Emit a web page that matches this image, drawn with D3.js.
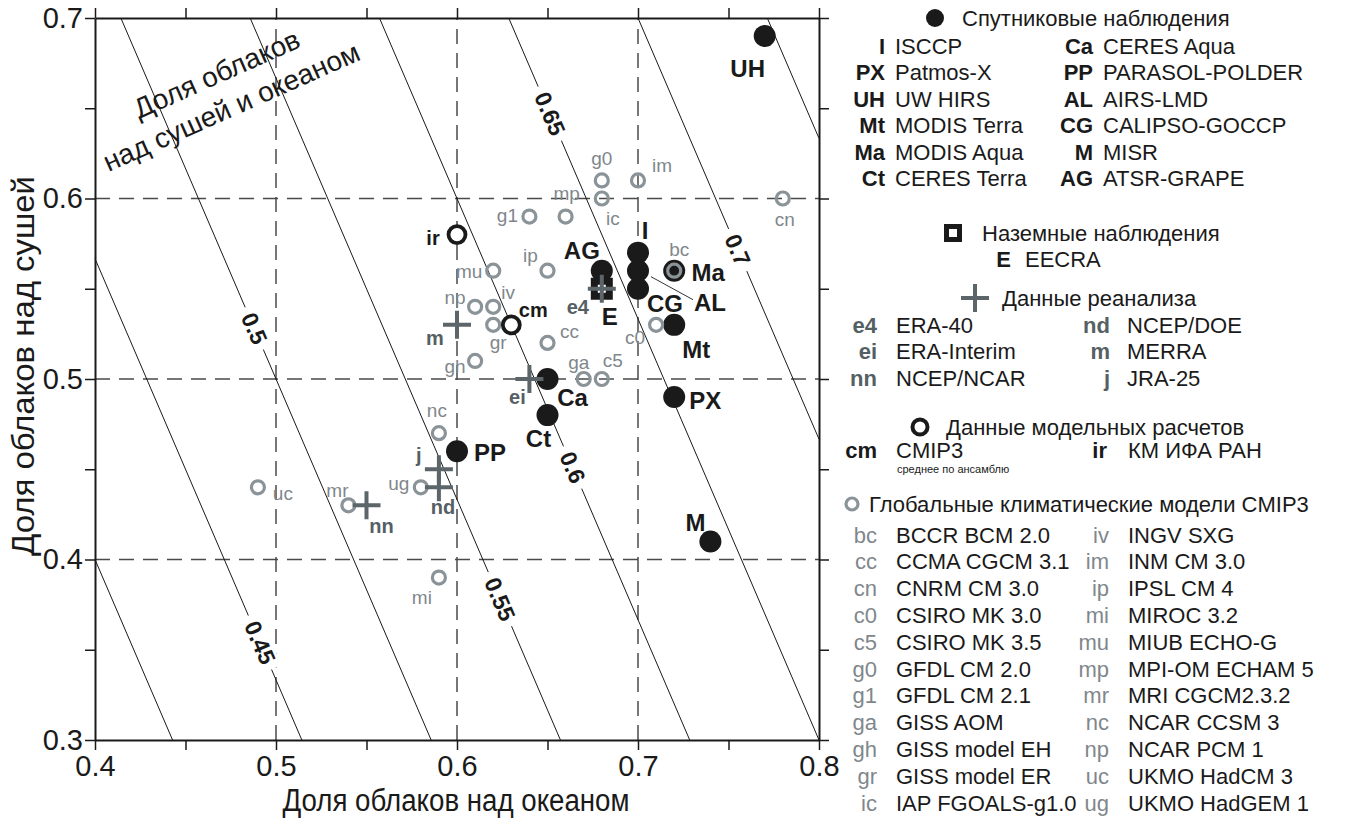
<!DOCTYPE html>
<html>
<head>
<meta charset="utf-8">
<script src="https://cdn.jsdelivr.net/npm/d3@7"></script>
<style>
  body { margin: 0; background: #fff; }
  svg { display: block; font-family: "Liberation Sans", Arial, sans-serif; }
</style>
</head>
<body>
<svg id="chart" width="1364" height="822"></svg>
<script>
/* DATA: [code, ocean cloud fraction, land cloud fraction] */
const satellite = [
  ["UH", 0.77, 0.69], ["I", 0.70, 0.57], ["AL", 0.70, 0.56], ["CG", 0.70, 0.55],
  ["AG", 0.68, 0.56], ["Ma", 0.72, 0.56], ["Mt", 0.72, 0.53], ["PX", 0.72, 0.49],
  ["Ca", 0.65, 0.50], ["Ct", 0.65, 0.48], ["PP", 0.60, 0.46], ["M", 0.74, 0.41]
];
const ground = [["E", 0.68, 0.55]];
const reanalysis = [
  ["e4", 0.68, 0.55], ["ei", 0.64, 0.50], ["m", 0.60, 0.53],
  ["nn", 0.55, 0.43], ["nd", 0.59, 0.44], ["j", 0.59, 0.45]
];
const models = [["ir", 0.60, 0.58], ["cm", 0.63, 0.53]];
const cmip3 = [
  ["g0", 0.68, 0.61], ["im", 0.70, 0.61], ["ic", 0.68, 0.60], ["mp", 0.66, 0.59],
  ["g1", 0.64, 0.59], ["cn", 0.78, 0.60], ["ip", 0.65, 0.56], ["mu", 0.62, 0.56],
  ["np", 0.61, 0.54], ["iv", 0.62, 0.54], ["gr", 0.62, 0.53], ["cc", 0.65, 0.52],
  ["gh", 0.61, 0.51], ["ga", 0.67, 0.50], ["c5", 0.68, 0.50], ["bc", 0.72, 0.56],
  ["c0", 0.71, 0.53], ["nc", 0.59, 0.47], ["uc", 0.49, 0.44], ["mr", 0.54, 0.43],
  ["ug", 0.58, 0.44], ["mi", 0.59, 0.39]
];

/* total = landShare*land + (1-landShare)*ocean */
const landShare = 0.3;
const contourLevels = [0.4, 0.45, 0.5, 0.55, 0.6, 0.65, 0.7, 0.75];
/* [level, land value where the label sits] */
const contourLabels = [[0.45, 0.354], [0.5, 0.528], [0.55, 0.378], [0.6, 0.451], [0.65, 0.647], [0.7, 0.5715]];

const xTicks = [0.4, 0.45, 0.5, 0.55, 0.6, 0.65, 0.7, 0.75, 0.8];
const yTicks = [0.3, 0.35, 0.4, 0.45, 0.5, 0.55, 0.6, 0.65, 0.7];
const gridX = [0.5, 0.6, 0.7];
const gridY = [0.4, 0.5, 0.6];

/* legend texts */
const satNames = [
  ["I", "ISCCP"], ["PX", "Patmos-X"], ["UH", "UW HIRS"], ["Mt", "MODIS Terra"], ["Ma", "MODIS Aqua"], ["Ct", "CERES Terra"],
  ["Ca", "CERES Aqua"], ["PP", "PARASOL-POLDER"], ["AL", "AIRS-LMD"], ["CG", "CALIPSO-GOCCP"], ["M", "MISR"], ["AG", "ATSR-GRAPE"]
];
const groundNames = [["E", "EECRA"]];
const reanNames = [["e4", "ERA-40"], ["ei", "ERA-Interim"], ["nn", "NCEP/NCAR"], ["nd", "NCEP/DOE"], ["m", "MERRA"], ["j", "JRA-25"]];
const modelNames = [["cm", "CMIP3"], ["ir", "КМ ИФА РАН"]];
const cmipNames = [
  ["bc", "BCCR BCM 2.0"], ["cc", "CCMA CGCM 3.1"], ["cn", "CNRM CM 3.0"], ["c0", "CSIRO MK 3.0"], ["c5", "CSIRO MK 3.5"],
  ["g0", "GFDL CM 2.0"], ["g1", "GFDL CM 2.1"], ["ga", "GISS AOM"], ["gh", "GISS model EH"], ["gr", "GISS model ER"],
  ["ic", "IAP FGOALS-g1.0"],
  ["iv", "INGV SXG"], ["im", "INM CM 3.0"], ["ip", "IPSL CM 4"], ["mi", "MIROC 3.2"], ["mu", "MIUB ECHO-G"],
  ["mp", "MPI-OM ECHAM 5"], ["mr", "MRI CGCM2.3.2"], ["nc", "NCAR CCSM 3"], ["np", "NCAR PCM 1"], ["uc", "UKMO HadCM 3"],
  ["ug", "UKMO HadGEM 1"]
];

/* label offsets (px) from marker centre */
const labelPos = {
  UH: [-17, 32], I: [7, -22], AL: [72, 32], CG: [27, 15], AG: [-20, -20], Ma: [34, 2], Mt: [22, 25],
  PX: [31, 3], Ca: [25, 18], Ct: [-9, 23], PP: [33, 1], M: [-15, -19], E: [8, 28],
  e4: [-24, 18], ei: [-12, 18], m: [-22, 13], nn: [15, 21], nd: [4, 20], j: [-20, -14],
  ir: [-24, 3], cm: [22, -15],
  g0: [0, -22], im: [24, -15], ic: [11, 20], mp: [1, -23], g1: [-22, -1], cn: [2, 21], ip: [-17, -15],
  mu: [-24, 1], np: [-20, -9], iv: [15, -14], gr: [5, 18], cc: [22, -11], gh: [-20, 6], ga: [-5, -17],
  c5: [11, -19], bc: [5, -21], c0: [-21, 13], nc: [-2, -23], uc: [25, 6], mr: [-11, -15], ug: [-22, -4], mi: [-17, 20]
};

const black = "#1a1a1a", ringGray = "#8a9398", crossGray = "#5c6569", labGray = "#7f878c";
const legendSize = 22;

const svg = d3.select("#chart");
const x = d3.scaleLinear([0.4, 0.8], [95, 819]);
const y = d3.scaleLinear([0.3, 0.7], [740, 18]);
const isMajor = d => Math.abs(d * 10 - Math.round(d * 10)) < 1e-6;

/* GRID */
svg.append("g").selectAll("line").data(gridX).join("line")
  .attr("x1", d => x(d)).attr("x2", d => x(d)).attr("y1", y(0.3)).attr("y2", y(0.7))
  .attr("stroke", "#4a4a4a").attr("stroke-width", 1.5).attr("stroke-dasharray", "15 9");
svg.append("g").selectAll("line").data(gridY).join("line")
  .attr("y1", d => y(d)).attr("y2", d => y(d)).attr("x1", x(0.4)).attr("x2", x(0.8))
  .attr("stroke", "#4a4a4a").attr("stroke-width", 1.5).attr("stroke-dasharray", "15 9");

/* CONTOURS of total cloud fraction */
function segment(t) {
  const w = 1 - landShare;
  let o1 = (t - landShare * 0.7) / w, l1 = 0.7;
  if (o1 < 0.4) { o1 = 0.4; l1 = (t - w * 0.4) / landShare; }
  let o2 = (t - landShare * 0.3) / w, l2 = 0.3;
  if (o2 > 0.8) { o2 = 0.8; l2 = (t - w * 0.8) / landShare; }
  return [[o1, l1], [o2, l2]];
}
svg.append("g").selectAll("path").data(contourLevels).join("path")
  .attr("d", t => d3.line().x(d => x(d[0])).y(d => y(d[1]))(segment(t)))
  .attr("fill", "none").attr("stroke", black).attr("stroke-width", 1);

// direction of the contour lines going down-right on screen
const dl = (1 - landShare) / landShare * 0.01;
const angle = Math.atan2(y(0.5 - dl) - y(0.5), x(0.41) - x(0.4)) * 180 / Math.PI;
const cl = svg.append("g").selectAll("g").data(contourLabels).join("g")
  .attr("transform", d => {
    const l = d[1], o = (d[0] - landShare * l) / (1 - landShare);
    return `translate(${x(o)},${y(l)}) rotate(${angle})`;
  });
cl.append("rect").attr("fill", "#fff");
cl.append("text").text(d => d[0])
  .attr("text-anchor", "middle").attr("dominant-baseline", "central")
  .attr("font-size", 23).attr("font-weight", "bold").attr("fill", black);
cl.each(function () {
  const g = d3.select(this), w = g.select("text").node().getComputedTextLength() + 14;
  g.select("rect").attr("x", -w / 2).attr("y", -11).attr("width", w).attr("height", 22);
});

/* inset caption */
svg.append("g").attr("transform", "translate(224,90.5) rotate(-24)")
  .selectAll("text").data(["Доля облаков", "над сушей и океаном"]).join("text")
  .attr("y", (d, i) => i * 36 - 18).text(d => d)
  .attr("text-anchor", "middle").attr("dominant-baseline", "central")
  .attr("font-size", 28).attr("fill", black);

/* AXES */
function styleAxis(g) {
  g.select(".domain").attr("stroke", black).attr("stroke-width", 2);
  g.selectAll(".tick line").attr("stroke", black).attr("stroke-width", 1.5);
  g.selectAll(".tick text").attr("font-size", 29).attr("fill", black)
    .attr("font-family", "'Liberation Sans', Arial, sans-serif");
}
const fmt = d => isMajor(d) ? d3.format(".1f")(d) : "";
svg.append("g").attr("transform", `translate(0,${y(0.3)})`)
  .call(d3.axisBottom(x).tickValues(xTicks).tickSize(10).tickSizeOuter(0).tickPadding(5).tickFormat(fmt)).call(styleAxis);
svg.append("g").attr("transform", `translate(0,${y(0.7)})`)
  .call(d3.axisTop(x).tickValues(xTicks).tickSize(10).tickSizeOuter(0).tickFormat("")).call(styleAxis);
svg.append("g").attr("transform", `translate(${x(0.4)},0)`)
  .call(d3.axisLeft(y).tickValues(yTicks).tickSize(10).tickSizeOuter(0).tickPadding(2).tickFormat(fmt)).call(styleAxis);
svg.append("g").attr("transform", `translate(${x(0.8)},0)`)
  .call(d3.axisRight(y).tickValues(yTicks).tickSize(10).tickSizeOuter(0).tickFormat("")).call(styleAxis);

svg.append("text").attr("x", 456).attr("y", 800).text("Доля облаков над океаном")
  .attr("text-anchor", "middle").attr("dominant-baseline", "central").attr("font-size", 31)
  .attr("textLength", 347).attr("lengthAdjust", "spacingAndGlyphs").attr("fill", black);
svg.append("text").attr("transform", "translate(23,366) rotate(-90)").text("Доля облаков над сушей")
  .attr("text-anchor", "middle").attr("dominant-baseline", "central").attr("font-size", 31)
  .attr("textLength", 380).attr("lengthAdjust", "spacingAndGlyphs").attr("fill", black);

/* MARKERS */
const px = d => x(d[1]), py = d => y(d[2]);

// leader line for AL
const al = satellite.find(d => d[0] === "AL");
svg.append("line").attr("x1", px(al) + 13).attr("y1", py(al) + 6).attr("x2", px(al) + 55).attr("y2", py(al) + 29)
  .attr("stroke", "#333").attr("stroke-width", 1);

svg.append("g").selectAll("circle").data(satellite).join("circle")
  .attr("cx", px).attr("cy", py).attr("r", 11).attr("fill", black);

const gs = svg.append("g").selectAll("g").data(ground).join("g")
  .attr("transform", d => `translate(${px(d)},${py(d)})`);
gs.append("rect").attr("x", -11).attr("y", -11).attr("width", 22).attr("height", 22).attr("fill", black);
gs.append("rect").attr("x", -4).attr("y", -4).attr("width", 8).attr("height", 8).attr("fill", "#fff");

svg.append("g").selectAll("circle").data(cmip3).join("circle")
  .attr("cx", px).attr("cy", py).attr("r", 6.5).attr("fill", "none")
  .attr("stroke", ringGray).attr("stroke-width", 3.2);

svg.append("g").selectAll("circle").data(models).join("circle")
  .attr("cx", px).attr("cy", py).attr("r", 8.5).attr("fill", "#fff")
  .attr("stroke", black).attr("stroke-width", 3.8);

const crossPath = "M-14,0H14M0,-14V14";
svg.append("g").selectAll("path").data(reanalysis).join("path")
  .attr("transform", d => `translate(${px(d)},${py(d)})`).attr("d", crossPath)
  .attr("stroke", crossGray).attr("stroke-width", 4).attr("fill", "none");

/* LABELS */
function labels(data, size, weight, color) {
  svg.append("g").selectAll("text").data(data).join("text")
    .attr("x", d => px(d) + labelPos[d[0]][0]).attr("y", d => py(d) + labelPos[d[0]][1])
    .text(d => d[0]).attr("text-anchor", "middle").attr("dominant-baseline", "central")
    .attr("font-size", size).attr("font-weight", weight).attr("fill", color);
}
labels(cmip3, 19, "normal", labGray);
labels(reanalysis, 20, "bold", "#556064");
labels(models, 20, "bold", black);
labels(satellite, 24, "bold", black);
labels(ground, 24, "bold", black);

/* LEGEND */
const lg = svg.append("g");
function header(sym, sx, tx, yy, text) {
  sym(lg.append("g").attr("transform", `translate(${sx},${yy})`));
  lg.append("text").attr("x", tx).attr("y", yy).text(text)
    .attr("dominant-baseline", "central").attr("font-size", legendSize).attr("fill", black);
}
function rows(list, perCol, cols, ys, codeStyle) {
  list.forEach((d, i) => {
    const c = Math.floor(i / perCol), r = i % perCol;
    lg.append("text").attr("x", cols[c][0]).attr("y", ys[r]).text(d[0])
      .attr("text-anchor", "end").attr("dominant-baseline", "central").attr("font-size", legendSize)
      .attr("font-weight", codeStyle.weight).attr("fill", codeStyle.color);
    lg.append("text").attr("x", cols[c][1]).attr("y", ys[r]).text(d[1])
      .attr("dominant-baseline", "central").attr("font-size", legendSize).attr("fill", black);
  });
}
const seq = (start, step, n) => Array.from({length: n}, (_, i) => start + i * step);

header(g => g.append("circle").attr("r", 9).attr("fill", black), 935, 962, 18, "Спутниковые наблюдения");
rows(satNames, 6, [[885, 895], [1093, 1103]], seq(46, 26.5, 6), {weight: "bold", color: black});

header(g => {
  g.append("rect").attr("x", -9).attr("y", -9).attr("width", 18).attr("height", 18).attr("fill", black);
  g.append("rect").attr("x", -4).attr("y", -4).attr("width", 8).attr("height", 8).attr("fill", "#fff");
}, 953, 982, 233, "Наземные наблюдения");
rows(groundNames, 1, [[1011, 1025]], [259], {weight: "bold", color: black});

header(g => g.append("path").attr("d", crossPath).attr("stroke", crossGray).attr("stroke-width", 4),
  975, 1002, 298, "Данные реанализа");
rows(reanNames, 3, [[877, 896], [1110, 1127]], seq(325, 26.5, 3), {weight: "bold", color: "#556064"});

header(g => g.append("circle").attr("r", 7.5).attr("fill", "none").attr("stroke", black).attr("stroke-width", 4),
  920, 946, 427, "Данные модельных расчетов");
rows(modelNames, 1, [[877, 896], [1107, 1128]], [450], {weight: "bold", color: black});
lg.append("text").attr("x", 897).attr("y", 469).text("среднее по ансамблю")
  .attr("dominant-baseline", "central").attr("font-size", 11).attr("fill", black);

header(g => g.append("circle").attr("r", 6).attr("fill", "none").attr("stroke", ringGray).attr("stroke-width", 3.2),
  852, 869, 504, "Глобальные климатические модели CMIP3");
rows(cmipNames, 11, [[877, 896], [1109, 1128]], seq(535, 26.8, 11), {weight: "normal", color: labGray});
</script>
</body>
</html>
